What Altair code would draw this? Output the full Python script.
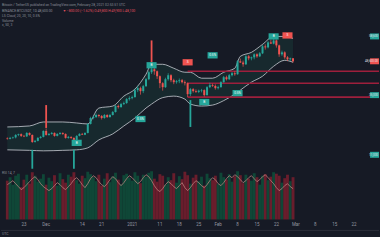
import altair as alt
import pandas as pd

# ---------------- data ----------------
dates = pd.date_range("2020-11-17", periods=104, freq="D")
opens = [17600, 17400, 17800, 18000, 19000, 19300, 18600, 18400, 19800, 19000,
         16200, 16600, 17800, 18200, 20600, 19000, 19400, 19800, 18600, 19400,
         19800, 19400, 17800, 18200, 17800, 17000, 18600, 19400, 19100, 19800,
         23400, 25800, 26200, 27000, 26600, 25800, 27000, 26200, 27000, 28200,
         30600, 30200, 31400, 31800, 33400, 33800, 34200, 37000, 37800, 36600,
         38600, 41400, 44200, 45400, 44600, 42600, 39800, 38200, 41400, 43000,
         41000, 40200, 40600, 41000, 40200, 39800, 35400, 37400, 36600, 36300,
         36800, 37000, 35000, 38200, 39000, 38700, 37800, 38200, 40200, 42200,
         41400, 43000, 43800, 43400, 48600, 48100, 47400, 50600, 49800, 50200,
         51400, 50600, 51800, 54600, 54200, 56200, 55700, 57000, 55000, 51400,
         52200, 50200, 49400, 49800]
closes = [17400, 17800, 18000, 19000, 19300, 18600, 18400, 19800, 19000, 16200,
          16600, 17800, 18200, 20600, 19000, 19400, 19800, 18600, 19400, 19800,
          19400, 17800, 18200, 17800, 17000, 18600, 19400, 19100, 19800, 23400,
          25800, 26200, 27000, 26600, 25800, 27000, 26200, 27000, 28200, 30600,
          30200, 31400, 31800, 33400, 33800, 34200, 37000, 37800, 36600, 38600,
          41400, 44200, 45400, 44600, 42600, 39800, 38200, 41400, 43000, 41000,
          40200, 40600, 41000, 40200, 39800, 35400, 37400, 36600, 36300, 36800,
          37000, 35000, 38200, 39000, 38700, 37800, 38200, 40200, 42200, 41400,
          43000, 43800, 43400, 48600, 48100, 47400, 50600, 49800, 50200, 51400,
          50600, 51800, 54600, 54200, 56200, 55700, 57000, 55000, 51400, 52200,
          50200, 49400, 49800, 48600]
highs = [18000, 18200, 18300, 19300, 19500, 19600, 19000, 20100, 20000, 19200,
         17000, 18100, 18600, 20800, 21600, 19800, 20200, 20000, 19700, 20100,
         20000, 19600, 18600, 18400, 18000, 18900, 19700, 19800, 20100, 23700,
         26300, 26800, 27600, 27300, 27000, 27400, 27300, 27400, 28600, 31000,
         31200, 31900, 32400, 33800, 34500, 34800, 37600, 38800, 38400, 39100,
         41900, 44800, 46600, 46000, 44900, 42900, 40200, 42000, 43800, 43400,
         41600, 41100, 41700, 41500, 40900, 40100, 37900, 37800, 37300, 37200,
         37500, 37300, 38600, 40000, 39600, 39300, 38800, 40600, 42700, 42800,
         43500, 44300, 44600, 49100, 49700, 48900, 51000, 51100, 50500, 51800,
         51800, 52300, 55100, 55400, 56700, 57300, 58000, 57400, 55300, 52900,
         52600, 50700, 50100, 49900]
lows = [17100, 17200, 17400, 17600, 18500, 18200, 18100, 18200, 18700, 15800,
        15900, 16400, 17500, 18000, 18700, 18700, 19100, 18300, 18400, 19100,
        19000, 17500, 17500, 17400, 16400, 16900, 18400, 19000, 18900, 19600,
        23200, 25300, 25800, 26000, 25200, 25500, 25800, 25900, 26800, 28000,
        29600, 29900, 31000, 31500, 32800, 33300, 34000, 36200, 35200, 35800,
        38300, 41000, 43500, 43200, 41500, 37800, 36800, 37900, 40800, 40200,
        39400, 39600, 39800, 39700, 38900, 34200, 34600, 36000, 35900, 35800,
        36100, 34400, 34800, 37800, 38300, 37200, 37300, 38000, 40000, 40900,
        41100, 42500, 42800, 43200, 47900, 46400, 47100, 49000, 49000, 49400,
        50000, 50300, 51500, 53300, 53800, 55600, 55400, 54100, 50400, 50800,
        49600, 48700, 48800, 48100]
ind_bars = [78, 85, 70, 88, 92, 65, 80, 90, 72, 95,
            88, 76, 82, 91, 70, 84, 77, 89, 68, 93,
            81, 74, 90, 86, 95, 79, 72, 88, 83, 96,
            91, 85, 77, 90, 68, 82, 93, 75, 87, 94,
            80, 71, 89, 92, 84, 78, 95, 88, 73, 90,
            86, 94, 97, 82, 76, 91, 88, 70, 85, 79,
            93, 74, 87, 81, 96, 89, 72, 84, 90, 77,
            86, 68, 92, 83, 79, 88, 71, 94, 85, 80,
            91, 76, 87, 97, 89, 73, 90, 82, 78, 93,
            85, 70, 88, 91, 79, 86, 95, 92, 88, 74,
            83, 90, 77, 85]
ind_line = [70, 74, 78, 72, 66, 60, 64, 70, 76, 82,
            86, 80, 72, 66, 62, 58, 62, 68, 74, 70,
            64, 60, 66, 72, 80, 84, 78, 70, 64, 72,
            82, 88, 84, 76, 70, 66, 72, 80, 86, 82,
            74, 68, 74, 82, 88, 84, 78, 72, 76, 84,
            90, 86, 78, 68, 60, 56, 62, 70, 76, 72,
            66, 62, 68, 74, 64, 58, 64, 72, 78, 74,
            68, 64, 70, 78, 84, 80, 72, 68, 74, 82,
            88, 84, 90, 86, 80, 74, 78, 84, 88, 82,
            76, 80, 86, 90, 84, 78, 72, 64, 58, 62,
            68, 72, 66, 62]

# envelope bands (day offset, price)
band_days = [0, 8, 13, 20, 25, 29, 33, 38, 42, 46, 50, 52, 56, 60, 64, 66, 70, 74, 78, 82, 84, 88, 92, 96, 100, 103]
upper_vals = [22200, 22600, 24200, 24200, 23800, 23400, 29800, 30600, 34600, 37400, 43400, 47400, 47400,
              45800, 44200, 44200, 41800, 41800, 44200, 45800, 50600, 52200, 55400, 58600, 58600, 57800]
lower_vals = [13000, 12800, 12600, 12800, 13000, 13800, 17000, 19400, 22600, 25800, 29800, 31400, 34000,
              34600, 33400, 31400, 30600, 31000, 32800, 35400, 37000, 40200, 42600, 46600, 49000, 48200]

# horizontal levels
level_start = 65
level_vals = [44600, 39800, 34200]

# signals
sig_days = [9, 14, 24, 52, 66]
sig_from = [13000, 31000, 13000, 57000, 22200]
sig_to = [5400, 21800, 5400, 47000, 33000]
sig_kind = ["buy", "sell", "buy", "sell", "buy"]

# small labels
lab_days = [52, 48, 74, 71, 83, 96, 25, 65, 101]
lab_vals = [47000, 25400, 51000, 32200, 35800, 58600, 15800, 48200, 59000]
lab_kind = ["buy", "buy", "buy", "buy", "buy", "buy", "buy", "sell", "sell"]
lab_text = ["B", "0.5%", "0.5%", "B", "0.5%", "B", "B", "S", "S"]

# right side price tags
tag_vals = [58600, 48600, 35000, 11000]
tag_text = ["58,600", "48,600.00", "35,000", "11,000"]
tag_kind = ["blue", "red", "blue", "blue"]

tick_days = [6, 14, 27, 34, 45, 55, 62, 69, 76, 83, 90, 97, 104, 111, 118, 125]
tick_labels = ["23", "Dec", "14", "21", "2021", "11", "18", "25", "Feb", "8", "15", "22", "Mar", "8", "15", "22"]

# ---------------- tables ----------------
days = [(d - dates[0]).days for d in dates]
df = pd.DataFrame({"day": days, "open": opens, "high": highs, "low": lows, "close": closes,
                   "ind": ind_bars, "osc": ind_line})
df["dir"] = ["up" if c >= o else "down" for o, c in zip(opens, closes)]
df["hist"] = ["pos" if c >= o else "neg" for o, c in zip(opens, closes)]
band_df = pd.DataFrame({"day": band_days, "up": upper_vals, "lo": lower_vals})
band_long = pd.concat([
    pd.DataFrame({"day": band_days, "v": upper_vals, "band": "upper"}),
    pd.DataFrame({"day": band_days, "v": lower_vals, "band": "lower"}),
])
lev_df = pd.DataFrame({"day": [level_start] * len(level_vals), "v": level_vals})
sig_df = pd.DataFrame({"day": sig_days, "a": sig_from, "b": sig_to, "skind": sig_kind})
lab_df = pd.DataFrame({"day": lab_days, "v": lab_vals, "lkind": lab_kind, "t": lab_text})
tag_df = pd.DataFrame({"v": tag_vals, "t": tag_text, "tkind": tag_kind})
tick_df = pd.DataFrame({"day": tick_days, "t": tick_labels})

BG = "#161a25"
GRID = "#242835"
UP = "#26a69a"
DOWN = "#ef5350"
FONT = "Roboto"

xscale = alt.Scale(domain=[-0.49, 132.2], nice=False, zero=False)
yscale = alt.Scale(domain=[5000, 73000], nice=False, zero=False)
dir_color = alt.Color("dir:N", scale=alt.Scale(domain=["up", "down"], range=[UP, DOWN]), legend=None)

# ---------------- main pane ----------------
grid_x = alt.Axis(values=tick_days, labels=False, ticks=False, domain=False, grid=True,
                  gridColor=GRID, title=None, minExtent=0)
grid_y = alt.Axis(values=list(range(10000, 73000, 5000)), orient="right", labels=False, ticks=False,
                  domain=False, grid=True, gridColor=GRID, title=None, minExtent=0)

base = alt.Chart(df)

band_fill = alt.Chart(band_df).mark_area(color="#1f6b55", opacity=0.2, interpolate="monotone").encode(
    x=alt.X("day:Q", scale=xscale, axis=grid_x),
    y=alt.Y("lo:Q", scale=yscale, axis=grid_y),
    y2="up:Q",
)
band_lines = alt.Chart(band_long).mark_line(color="#c9ccd4", strokeWidth=0.8, interpolate="monotone").encode(
    x=alt.X("day:Q", scale=xscale, axis=None),
    y=alt.Y("v:Q", scale=yscale, axis=None),
    detail="band:N",
)

levels = alt.Chart(lev_df).mark_rule(color="#9e1f3c", strokeWidth=1.6).encode(
    x=alt.X("day:Q", scale=xscale, axis=None), x2=alt.value(380), y=alt.Y("v:Q", scale=yscale, axis=None))

wicks = base.mark_rule(strokeWidth=0.7).encode(
    x=alt.X("day:Q", scale=xscale, axis=None), y=alt.Y("low:Q", scale=yscale, axis=None), y2="high:Q",
    color=dir_color)
bodies = base.mark_bar(size=2).encode(
    x=alt.X("day:Q", scale=xscale, axis=None), y=alt.Y("open:Q", scale=yscale, axis=None), y2="close:Q",
    color=dir_color)

sig_color = alt.Color("skind:N", scale=alt.Scale(domain=["buy", "sell"], range=["#2ecc40", "#e8182e"]), legend=None)
signals = alt.Chart(sig_df).mark_rule(strokeWidth=1.8).encode(
    x=alt.X("day:Q", scale=xscale, axis=None), y=alt.Y("a:Q", scale=yscale, axis=None), y2="b:Q",
    color=sig_color)

box_path = "M-1.6,-1L1.6,-1L1.6,1L-1.6,1Z"
lab_color = alt.Color("lkind:N", scale=alt.Scale(domain=["buy", "sell"], range=["#26a69a", "#f05a66"]), legend=None)
lab_boxes = alt.Chart(lab_df).mark_point(shape=box_path, filled=True, size=40, opacity=1).encode(
    x=alt.X("day:Q", scale=xscale, axis=None), y=alt.Y("v:Q", scale=yscale, axis=None), color=lab_color)
lab_texts = alt.Chart(lab_df).mark_text(fontSize=3.2, color="#ffffff", font=FONT).encode(
    x=alt.X("day:Q", scale=xscale, axis=None), y=alt.Y("v:Q", scale=yscale, axis=None), text="t:N")

tag_color = alt.Color("tkind:N", scale=alt.Scale(domain=["blue", "red"], range=["#243b66", "#f05a66"]), legend=None)
tag_boxes = alt.Chart(tag_df).mark_point(shape="M-2,-1L1,-1L1,1L-2,1Z", filled=True, size=36, opacity=1).encode(
    x=alt.value(377), y=alt.Y("v:Q", scale=yscale, axis=None), color=tag_color)
tag_texts = alt.Chart(tag_df).mark_text(fontSize=3, color="#e0e3eb", align="right", font=FONT).encode(
    x=alt.value(379), y=alt.Y("v:Q", scale=yscale, axis=None), text="t:N")

def hdr(text, x, y, color="#8a8e99", size=3.4):
    return alt.Chart(pd.DataFrame({"t": [text]})).mark_text(
        align="left", baseline="middle", fontSize=size, color=color, font=FONT).encode(
        x=alt.value(x), y=alt.value(y), text="t:N")

headers = [
    hdr("Bitcoin / TetherUS published on TradingView.com, February 28, 2021 02:53:51 UTC", 1, 4),
    hdr("BINANCE:BTCUSDT, 1D  48,600.00", 1, 10),
    hdr("\u25bc \u2212800.00 (\u22121.62%)  O:49,800 H:49,900 L:48,100", 62, 10, color="#e0505e"),
    hdr("LS Cloud, 20, 20, 10, 0.5%", 1, 15.5),
    hdr("Volume", 1, 20),
    hdr("x, 50, 3", 1, 24.5),
]

main = alt.layer(band_fill, band_lines, levels, wicks, bodies, signals, lab_boxes, lab_texts, tag_boxes,
                 tag_texts, *headers).properties(width=380, height=170)

# ---------------- indicator pane ----------------
bx = alt.Axis(values=tick_days, labels=False, grid=True, gridColor=GRID, ticks=False, domain=True,
              domainColor="#2a2e39", title=None, minExtent=0)
ind_bars_m = alt.Chart(df).mark_bar(size=2.9, opacity=0.95).encode(
    x=alt.X("day:Q", scale=xscale, axis=bx),
    y=alt.Y("ind:Q", scale=alt.Scale(domain=[0, 100], nice=False), axis=None),
    color=alt.Color("hist:N", scale=alt.Scale(domain=["pos", "neg"], range=["#0f4a38", "#6e1d2c"]), legend=None))
ind_line_m = alt.Chart(df).mark_line(color="#c98a86", strokeWidth=0.7).encode(
    x=alt.X("day:Q", scale=xscale, axis=None),
    y=alt.Y("osc:Q", scale=alt.Scale(domain=[0, 100], nice=False), axis=None))
tick_text = alt.Chart(tick_df).mark_text(fontSize=4.5, color="#9598a1", font=FONT, baseline="middle").encode(
    x=alt.X("day:Q", scale=xscale, axis=None), y=alt.value(55.5), text="t:N")
sep = alt.Chart(pd.DataFrame({"a": [0]})).mark_rule(color="#2a2e39", strokeWidth=1).encode(
    x=alt.value(0), x2=alt.value(380), y=alt.value(61))
ind_hdr = alt.Chart(pd.DataFrame({"t": ["RSI 14, 7"]})).mark_text(
    align="left", baseline="middle", fontSize=3.4, color="#8a8e99", font=FONT).encode(
    x=alt.value(1), y=alt.value(3), text="t:N")
foot = alt.Chart(pd.DataFrame({"t": ["UTC"]})).mark_text(
    align="left", baseline="middle", fontSize=3.4, color="#8a8e99", font=FONT).encode(
    x=alt.value(1), y=alt.value(65), text="t:N")

ind = alt.layer(ind_bars_m, ind_line_m, tick_text, sep, ind_hdr, foot).properties(width=380, height=50)

chart = (alt.vconcat(main, ind, spacing=0).properties(padding=0, background=BG)
         .resolve_scale(color="independent").configure_view(stroke=None))

chart.save("out.html", embed_options={"renderer": "svg", "actions": False})
